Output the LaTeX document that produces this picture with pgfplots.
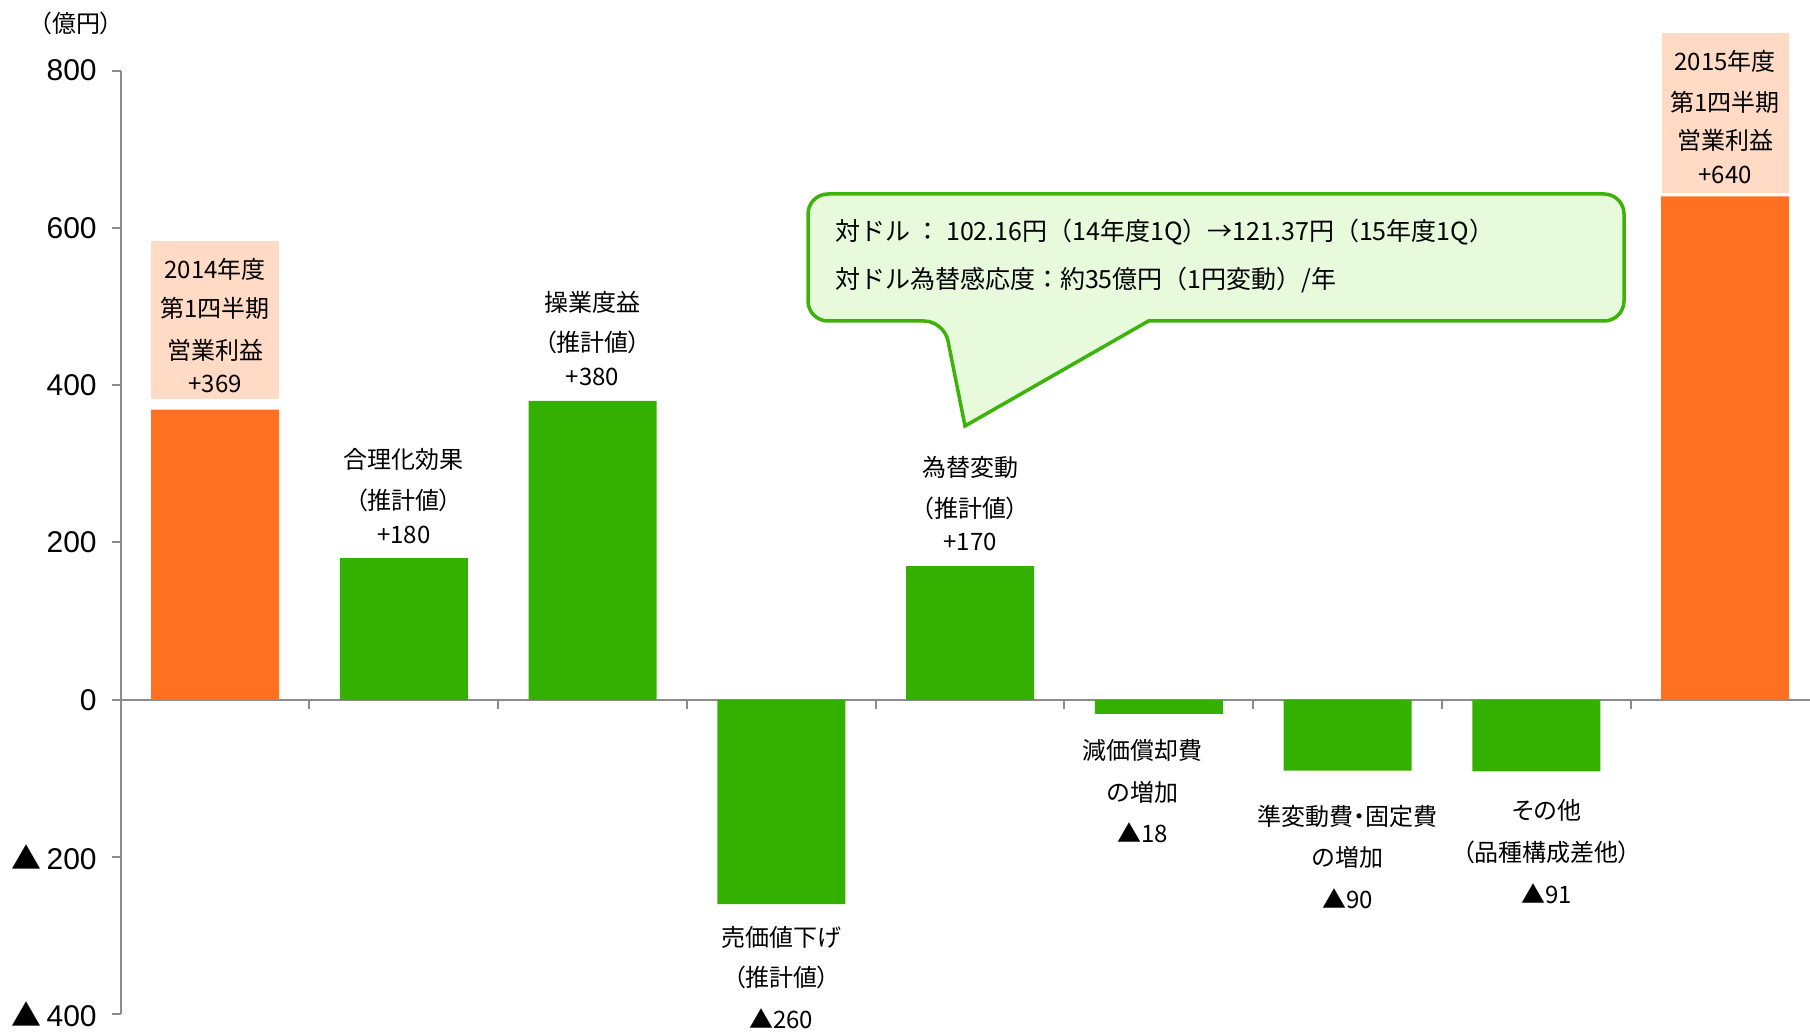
\documentclass[border=0pt]{standalone}
\usepackage{fontspec}
\usepackage{pgfplots}
\pgfplotsset{compat=1.18}
\setmainfont{Noto Sans CJK JP}[RawFeature={+palt}]
\newfontfamily\arial{Liberation Sans}
\newfontfamily\cjk{Noto Sans CJK JP}
\definecolor{barorange}{HTML}{FF7020}
\definecolor{bargreen}{HTML}{33B000}
\definecolor{peach}{HTML}{FFDAC5}
\definecolor{callfill}{HTML}{E8FADC}
\definecolor{callline}{HTML}{3DB30A}
\definecolor{axgray}{HTML}{8C8C8C}
\tikzset{lbl/.style={font=\fontsize{12}{14}\selectfont, inner sep=0pt, anchor=center}}
\begin{document}
\begin{tikzpicture}
\begin{axis}[
  scale only axis, width=844.65pt, height=471.8pt,
  xmin=-0.5, xmax=8.45, ymin=-400, ymax=800,
  axis y line=left, axis x line=middle,
  axis line style={draw=axgray, line width=1pt, -},
  ytick={-400,-200,0,200,400,600,800},
  yticklabels={{\cjk ▲}\,400,{\cjk ▲}\,200,0,200,400,600,800},
  yticklabel style={font=\arial\fontsize{15}{18}\selectfont, xshift=-4pt},
  xtick={0.5,1.5,2.5,3.5,4.5,5.5,6.5,7.5}, xticklabels={},
  tick style={draw=axgray, line width=1pt},
  major tick length=4.5pt, tick align=outside,
  clip=false,
]
\addplot[ybar, bar width=64pt, bar shift=0pt, fill=barorange, draw=none] coordinates {(0,369) (8,640)};
\addplot[ybar, bar width=64pt, bar shift=0pt, fill=bargreen, draw=none] coordinates {(1,180) (2,380) (3,-260) (4,170) (5,-18) (6,-90) (7,-91)};
\fill[peach] (axis cs:-0.338,382.5) rectangle (axis cs:0.341,583.5);
\fill[peach] (axis cs:7.666,644.5) rectangle (axis cs:8.339,848.4);
% bar 0
\node[lbl] at (axis cs:0,547.8) {2014年度};
\node[lbl] at (axis cs:0,498.3) {第1四半期};
\node[lbl] at (axis cs:0,444.9) {営業利益};
\node[lbl] at (axis cs:0,401.6) {+369};
% bar 1
\node[lbl] at (axis cs:1,306.2) {合理化効果};
\node[lbl] at (axis cs:1,254.1) {（推計値）};
\node[lbl] at (axis cs:1,210.2) {+180};
% bar 2
\node[lbl] at (axis cs:2,505.4) {操業度益};
\node[lbl] at (axis cs:2,454.0) {（推計値）};
\node[lbl] at (axis cs:2,409.9) {+380};
% bar 3
\node[lbl] at (axis cs:3,-301.7) {売価値下げ};
\node[lbl] at (axis cs:3,-353.4) {（推計値）};
\node[lbl] at (axis cs:3,-406.0) {▲260};
% bar 4
\node[lbl] at (axis cs:4,295.4) {為替変動};
\node[lbl] at (axis cs:4,243.9) {（推計値）};
\node[lbl] at (axis cs:4,200.1) {+170};
% bar 5
\node[lbl] at (axis cs:4.915,-63.8) {減価償却費};
\node[lbl] at (axis cs:4.915,-117.3) {の増加};
\node[lbl] at (axis cs:4.915,-169.4) {▲18};
% bar 6
\node[lbl] at (axis cs:6,-147.8) {準変動費・固定費};
\node[lbl] at (axis cs:6,-200.7) {の増加};
\node[lbl] at (axis cs:6,-253.3) {▲90};
% bar 7
\node[lbl] at (axis cs:7.055,-140.2) {その他};
\node[lbl] at (axis cs:7.055,-193.6) {（品種構成差他）};
\node[lbl] at (axis cs:7.055,-246.3) {▲91};
% bar 8
\node[lbl] at (axis cs:8,812.4) {2015年度};
\node[lbl] at (axis cs:8,760.3) {第1四半期};
\node[lbl] at (axis cs:8,711.9) {営業利益};
\node[lbl] at (axis cs:8,667.4) {+640};
\end{axis}
\begin{scope}[x=0.5pt, y=-0.5pt, shift={(-60.35pt,507.15pt)}]
\draw[callline, line width=1.75pt, fill=callfill] [rounded corners=10pt] (1300,321) -- (1624,321) -- (1624,194) -- (808,194) -- (808,321) -- (944,321) [sharp corners] -- (965,426) -- (1148.5,321) -- cycle;
\node[anchor=west, inner sep=0pt, font=\cjk\fontsize{12.5}{14}\selectfont] at (834.6,232) {対ドル\ ：\ 102.16円（14年度1Q）→121.37円（15年度1Q）};
\node[anchor=west, inner sep=0pt, font=\cjk\fontsize{12.5}{14}\selectfont] at (834.6,280.5) {対ドル為替感応度：約35億円（1円変動）/年};
\node[inner sep=0pt, font=\fontsize{12}{13}\selectfont] at (76,23) {（億円）};
\pgfresetboundingbox
\path (0,0) rectangle (1810,1032);
\end{scope}
\end{tikzpicture}
\end{document}
